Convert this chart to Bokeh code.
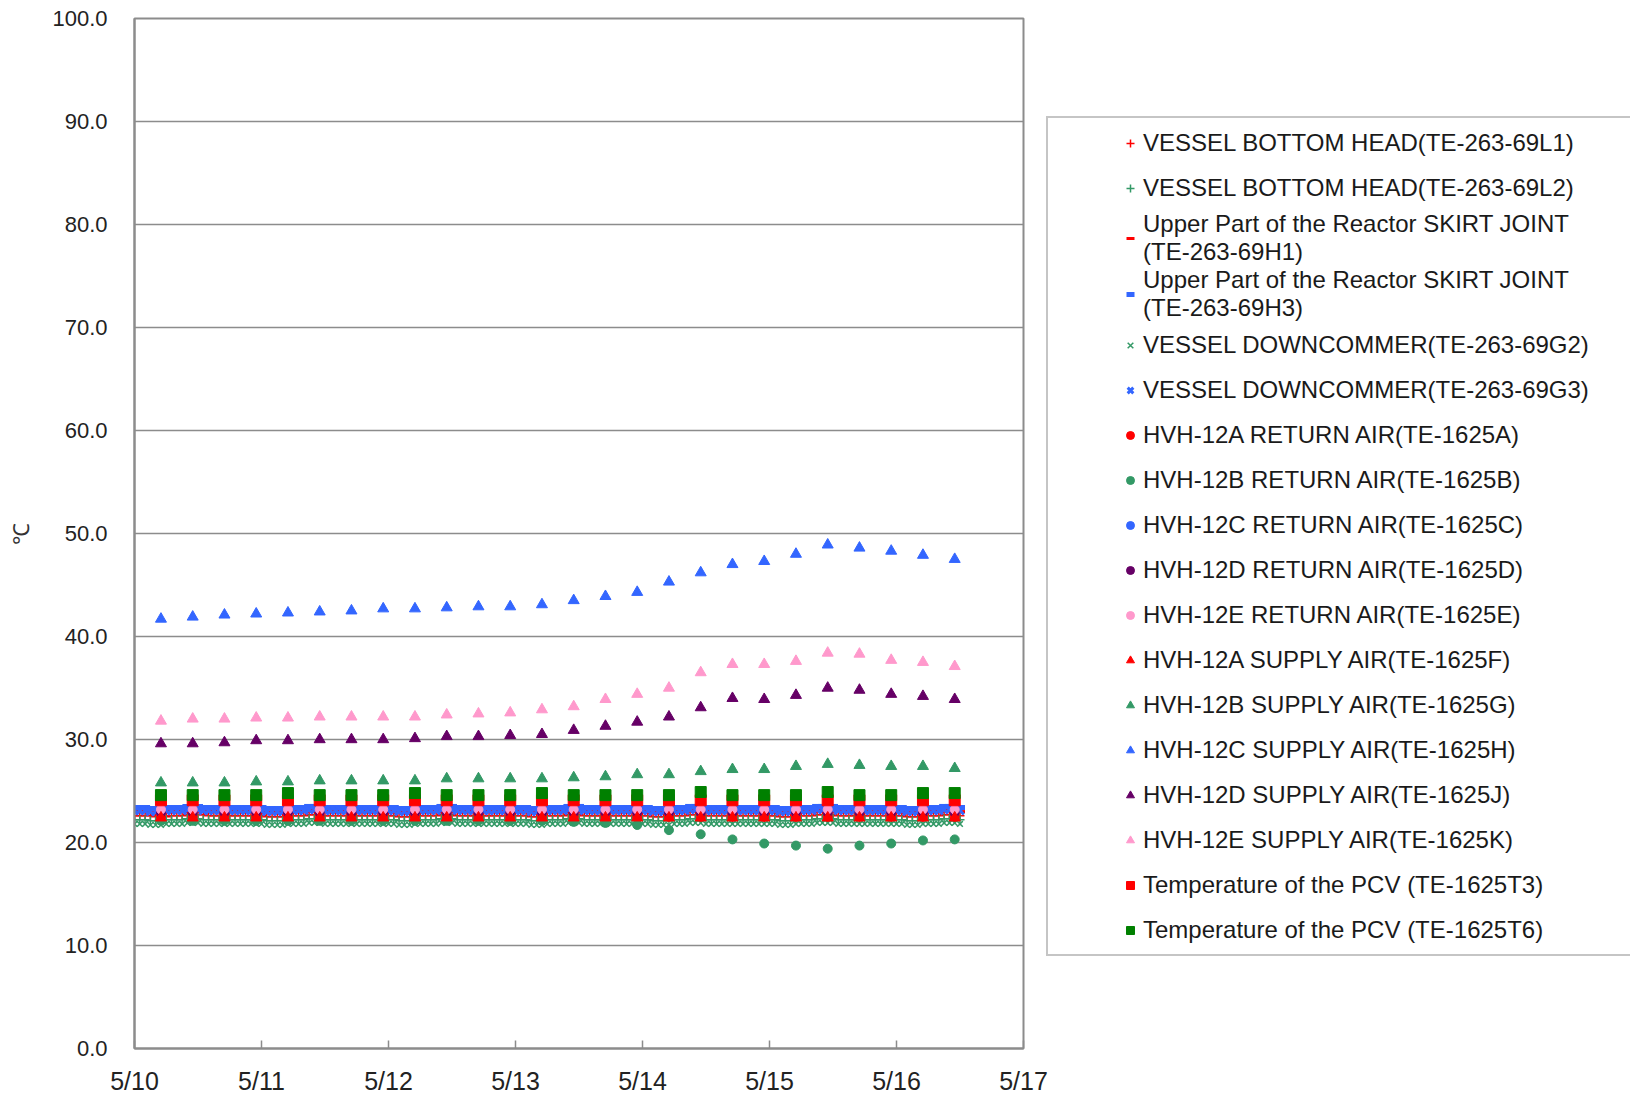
from datetime import datetime, timedelta
from bokeh.plotting import figure
from bokeh.models import Legend, LegendItem, FixedTicker, PrintfTickFormatter, Range1d
from bokeh.embed import file_html
from bokeh.resources import INLINE

START = datetime(2011, 5, 10)
# hourly readings 5/10 00:00 .. 5/16 12:00, six-hourly readings 5/10 05:00 .. 5/16 11:00
hourly_times = [START + timedelta(hours=h) for h in range(157)]
six_hour_times = [START + timedelta(hours=5 + 6 * i) for i in range(26)]

x_tick_labels = ["5/10", "5/11", "5/12", "5/13", "5/14", "5/15", "5/16", "5/17"]
y_ticks = [0, 10, 20, 30, 40, 50, 60, 70, 80, 90, 100]

# ---- hourly series (°C)
bottom_head_L1 = [
    22.6, 22.6, 22.6, 22.6, 22.5, 22.5, 22.5, 22.6, 22.6, 22.6, 22.7, 22.7, 22.7, 22.7, 22.6, 22.6, 22.6, 22.6, 22.6, 22.6, 22.6, 22.6, 22.6, 22.6,
    22.6, 22.5, 22.5, 22.5, 22.5, 22.6, 22.6, 22.6, 22.6, 22.7, 22.7, 22.7, 22.6, 22.6, 22.6, 22.6, 22.6, 22.6, 22.6, 22.6, 22.6, 22.6, 22.6, 22.6,
    22.6, 22.6, 22.5, 22.5, 22.5, 22.6, 22.6, 22.6, 22.6, 22.6, 22.7, 22.7, 22.7, 22.6, 22.6, 22.6, 22.6, 22.6, 22.6, 22.6, 22.6, 22.6, 22.6, 22.6,
    22.6, 22.6, 22.6, 22.5, 22.5, 22.5, 22.6, 22.6, 22.6, 22.6, 22.7, 22.7, 22.7, 22.6, 22.6, 22.6, 22.6, 22.6, 22.6, 22.6, 22.6, 22.6, 22.6, 22.6,
    22.6, 22.6, 22.5, 22.5, 22.5, 22.5, 22.6, 22.6, 22.6, 22.7, 22.7, 22.7, 22.6, 22.6, 22.6, 22.6, 22.6, 22.6, 22.6, 22.6, 22.6, 22.6, 22.6, 22.6,
    22.6, 22.6, 22.5, 22.5, 22.5, 22.6, 22.6, 22.6, 22.6, 22.7, 22.7, 22.7, 22.7, 22.6, 22.6, 22.6, 22.6, 22.6, 22.6, 22.6, 22.6, 22.6, 22.6, 22.6,
    22.6, 22.6, 22.5, 22.5, 22.5, 22.6, 22.6, 22.6, 22.6, 22.7, 22.7, 22.7, 22.6,
]
bottom_head_L2 = [
    22.2, 22.2, 22.2, 22.1, 22.1, 22.1, 22.2, 22.2, 22.2, 22.2, 22.3, 22.3, 22.3, 22.2, 22.2, 22.2, 22.2, 22.2, 22.2, 22.2, 22.2, 22.2, 22.2, 22.2,
    22.2, 22.1, 22.1, 22.1, 22.1, 22.2, 22.2, 22.2, 22.2, 22.3, 22.3, 22.3, 22.2, 22.2, 22.2, 22.2, 22.2, 22.2, 22.2, 22.2, 22.2, 22.2, 22.2, 22.2,
    22.2, 22.2, 22.1, 22.1, 22.1, 22.2, 22.2, 22.2, 22.2, 22.2, 22.3, 22.3, 22.3, 22.2, 22.2, 22.2, 22.2, 22.2, 22.2, 22.2, 22.2, 22.2, 22.2, 22.2,
    22.2, 22.2, 22.2, 22.1, 22.1, 22.1, 22.2, 22.2, 22.2, 22.2, 22.3, 22.3, 22.3, 22.2, 22.2, 22.2, 22.2, 22.2, 22.2, 22.2, 22.2, 22.2, 22.2, 22.2,
    22.2, 22.2, 22.1, 22.1, 22.1, 22.1, 22.2, 22.2, 22.2, 22.3, 22.3, 22.3, 22.2, 22.2, 22.2, 22.2, 22.2, 22.2, 22.2, 22.2, 22.2, 22.2, 22.2, 22.2,
    22.2, 22.2, 22.1, 22.1, 22.1, 22.2, 22.2, 22.2, 22.2, 22.3, 22.3, 22.3, 22.3, 22.2, 22.2, 22.2, 22.2, 22.2, 22.2, 22.2, 22.2, 22.2, 22.2, 22.2,
    22.2, 22.2, 22.1, 22.1, 22.1, 22.2, 22.2, 22.2, 22.2, 22.3, 22.3, 22.3, 22.2,
]
skirt_H1 = [
    23.0, 23.0, 23.0, 22.9, 22.9, 22.9, 23.0, 23.0, 23.0, 23.0, 23.1, 23.1, 23.1, 23.0, 23.0, 23.0, 23.0, 23.0, 23.0, 23.0, 23.0, 23.0, 23.0, 23.0,
    23.0, 22.9, 22.9, 22.9, 22.9, 23.0, 23.0, 23.0, 23.0, 23.1, 23.1, 23.1, 23.0, 23.0, 23.0, 23.0, 23.0, 23.0, 23.0, 23.0, 23.0, 23.0, 23.0, 23.0,
    23.0, 23.0, 22.9, 22.9, 22.9, 23.0, 23.0, 23.0, 23.0, 23.0, 23.1, 23.1, 23.1, 23.0, 23.0, 23.0, 23.0, 23.0, 23.0, 23.0, 23.0, 23.0, 23.0, 23.0,
    23.0, 23.0, 23.0, 22.9, 22.9, 22.9, 23.0, 23.0, 23.0, 23.0, 23.1, 23.1, 23.1, 23.0, 23.0, 23.0, 23.0, 23.0, 23.0, 23.0, 23.0, 23.0, 23.0, 23.0,
    23.0, 23.0, 22.9, 22.9, 22.9, 22.9, 23.0, 23.0, 23.0, 23.1, 23.1, 23.1, 23.0, 23.0, 23.0, 23.0, 23.0, 23.0, 23.0, 23.0, 23.0, 23.0, 23.0, 23.0,
    23.0, 23.0, 22.9, 22.9, 22.9, 23.0, 23.0, 23.0, 23.0, 23.1, 23.1, 23.1, 23.1, 23.0, 23.0, 23.0, 23.0, 23.0, 23.0, 23.0, 23.0, 23.0, 23.0, 23.0,
    23.0, 23.0, 22.9, 22.9, 22.9, 23.0, 23.0, 23.0, 23.0, 23.1, 23.1, 23.1, 23.0,
]
skirt_H3 = [
    23.4, 23.4, 23.4, 23.3, 23.3, 23.3, 23.4, 23.4, 23.4, 23.4, 23.5, 23.5, 23.5, 23.4, 23.4, 23.4, 23.4, 23.4, 23.4, 23.4, 23.4, 23.4, 23.4, 23.4,
    23.4, 23.3, 23.3, 23.3, 23.3, 23.4, 23.4, 23.4, 23.4, 23.5, 23.5, 23.5, 23.4, 23.4, 23.4, 23.4, 23.4, 23.4, 23.4, 23.4, 23.4, 23.4, 23.4, 23.4,
    23.4, 23.4, 23.3, 23.3, 23.3, 23.4, 23.4, 23.4, 23.4, 23.4, 23.5, 23.5, 23.5, 23.4, 23.4, 23.4, 23.4, 23.4, 23.4, 23.4, 23.4, 23.4, 23.4, 23.4,
    23.4, 23.4, 23.4, 23.3, 23.3, 23.3, 23.4, 23.4, 23.4, 23.4, 23.5, 23.5, 23.5, 23.4, 23.4, 23.4, 23.4, 23.4, 23.4, 23.4, 23.4, 23.4, 23.4, 23.4,
    23.4, 23.4, 23.3, 23.3, 23.3, 23.3, 23.4, 23.4, 23.4, 23.5, 23.5, 23.5, 23.4, 23.4, 23.4, 23.4, 23.4, 23.4, 23.4, 23.4, 23.4, 23.4, 23.4, 23.4,
    23.4, 23.4, 23.3, 23.3, 23.3, 23.4, 23.4, 23.4, 23.4, 23.5, 23.5, 23.5, 23.5, 23.4, 23.4, 23.4, 23.4, 23.4, 23.4, 23.4, 23.4, 23.4, 23.4, 23.4,
    23.4, 23.4, 23.3, 23.3, 23.3, 23.4, 23.4, 23.4, 23.4, 23.5, 23.5, 23.5, 23.4,
]
downcomer_G2 = [
    21.8, 21.8, 21.8, 21.7, 21.7, 21.7, 21.8, 21.8, 21.8, 21.8, 21.9, 21.9, 21.9, 21.8, 21.8, 21.8, 21.8, 21.8, 21.8, 21.8, 21.8, 21.8, 21.8, 21.8,
    21.8, 21.7, 21.7, 21.7, 21.7, 21.8, 21.8, 21.8, 21.8, 21.9, 21.9, 21.9, 21.8, 21.8, 21.8, 21.8, 21.8, 21.8, 21.8, 21.8, 21.8, 21.8, 21.8, 21.8,
    21.8, 21.8, 21.7, 21.7, 21.7, 21.8, 21.8, 21.8, 21.8, 21.8, 21.9, 21.9, 21.9, 21.8, 21.8, 21.8, 21.8, 21.8, 21.8, 21.8, 21.8, 21.8, 21.8, 21.8,
    21.8, 21.8, 21.8, 21.7, 21.7, 21.7, 21.8, 21.8, 21.8, 21.8, 21.9, 21.9, 21.9, 21.8, 21.8, 21.8, 21.8, 21.8, 21.8, 21.8, 21.8, 21.8, 21.8, 21.8,
    21.8, 21.8, 21.7, 21.7, 21.7, 21.7, 21.8, 21.8, 21.8, 21.9, 21.9, 21.9, 21.8, 21.8, 21.8, 21.8, 21.8, 21.8, 21.8, 21.8, 21.8, 21.8, 21.8, 21.8,
    21.8, 21.8, 21.7, 21.7, 21.7, 21.8, 21.8, 21.8, 21.8, 21.9, 21.9, 21.9, 21.9, 21.8, 21.8, 21.8, 21.8, 21.8, 21.8, 21.8, 21.8, 21.8, 21.8, 21.8,
    21.8, 21.8, 21.7, 21.7, 21.7, 21.8, 21.8, 21.8, 21.8, 21.9, 21.9, 21.9, 21.8,
]
downcomer_G3 = [
    23.1, 23.1, 23.1, 23.0, 23.0, 23.0, 23.1, 23.1, 23.1, 23.1, 23.2, 23.2, 23.2, 23.1, 23.1, 23.1, 23.1, 23.1, 23.1, 23.1, 23.1, 23.1, 23.1, 23.1,
    23.1, 23.0, 23.0, 23.0, 23.0, 23.1, 23.1, 23.1, 23.1, 23.2, 23.2, 23.2, 23.1, 23.1, 23.1, 23.1, 23.1, 23.1, 23.1, 23.1, 23.1, 23.1, 23.1, 23.1,
    23.1, 23.1, 23.0, 23.0, 23.0, 23.1, 23.1, 23.1, 23.1, 23.1, 23.2, 23.2, 23.2, 23.1, 23.1, 23.1, 23.1, 23.1, 23.1, 23.1, 23.1, 23.1, 23.1, 23.1,
    23.1, 23.1, 23.1, 23.0, 23.0, 23.0, 23.1, 23.1, 23.1, 23.1, 23.2, 23.2, 23.2, 23.1, 23.1, 23.1, 23.1, 23.1, 23.1, 23.1, 23.1, 23.1, 23.1, 23.1,
    23.1, 23.1, 23.0, 23.0, 23.0, 23.0, 23.1, 23.1, 23.1, 23.2, 23.2, 23.2, 23.1, 23.1, 23.1, 23.1, 23.1, 23.1, 23.1, 23.1, 23.1, 23.1, 23.1, 23.1,
    23.1, 23.1, 23.0, 23.0, 23.0, 23.1, 23.1, 23.1, 23.1, 23.2, 23.2, 23.2, 23.2, 23.1, 23.1, 23.1, 23.1, 23.1, 23.1, 23.1, 23.1, 23.1, 23.1, 23.1,
    23.1, 23.1, 23.0, 23.0, 23.0, 23.1, 23.1, 23.1, 23.1, 23.2, 23.2, 23.2, 23.1,
]

# ---- six-hourly series (°C)
return_A = [22.5, 22.5, 22.5, 22.5, 22.5, 22.5, 22.5, 22.5, 22.5, 22.5, 22.5, 22.5, 22.5,
            22.5, 22.5, 22.5, 22.5, 22.5, 22.5, 22.5, 22.5, 22.5, 22.5, 22.5, 22.5, 22.5]
return_B = [22.1, 22.1, 22.1, 22.1, 22.1, 22.1, 22.1, 22.1, 22.1, 22.1, 22.1, 22.1, 22.1,
            22.0, 21.9, 21.7, 21.2, 20.8, 20.3, 19.9, 19.7, 19.4, 19.7, 19.9, 20.2, 20.3]
return_C = [23.3, 23.3, 23.3, 23.3, 23.3, 23.3, 23.3, 23.3, 23.3, 23.3, 23.3, 23.3, 23.3,
            23.3, 23.3, 23.3, 23.3, 23.3, 23.3, 23.3, 23.3, 23.3, 23.3, 23.3, 23.3, 23.3]
return_D = [22.9, 22.9, 22.9, 22.9, 22.9, 22.9, 22.9, 22.9, 22.9, 22.9, 22.9, 22.9, 22.9,
            22.9, 22.9, 22.9, 22.9, 22.9, 22.9, 22.9, 22.9, 22.9, 22.9, 22.9, 22.9, 22.9]
return_E = [23.2, 23.2, 23.2, 23.2, 23.2, 23.2, 23.2, 23.2, 23.2, 23.2, 23.2, 23.2, 23.2,
            23.2, 23.2, 23.2, 23.2, 23.2, 23.2, 23.2, 23.2, 23.2, 23.2, 23.2, 23.2, 23.2]
supply_A = [22.4, 22.4, 22.4, 22.4, 22.4, 22.4, 22.4, 22.4, 22.4, 22.4, 22.4, 22.4, 22.4,
            22.4, 22.4, 22.4, 22.4, 22.4, 22.4, 22.4, 22.4, 22.4, 22.4, 22.4, 22.4, 22.4]
supply_B = [25.8, 25.8, 25.8, 25.9, 25.9, 26.0, 26.0, 26.0, 26.0, 26.2, 26.2, 26.2, 26.2,
            26.3, 26.4, 26.6, 26.6, 26.9, 27.1, 27.1, 27.4, 27.6, 27.5, 27.4, 27.4, 27.2]
supply_C = [41.7, 41.9, 42.1, 42.2, 42.3, 42.4, 42.5, 42.7, 42.7, 42.8, 42.9, 42.9, 43.1,
            43.5, 43.9, 44.3, 45.3, 46.2, 47.0, 47.3, 48.0, 48.9, 48.6, 48.3, 47.9, 47.5]
supply_D = [29.6, 29.6, 29.7, 29.9, 29.9, 30.0, 30.0, 30.0, 30.1, 30.3, 30.3, 30.4, 30.5,
            30.9, 31.3, 31.7, 32.2, 33.1, 34.0, 33.9, 34.3, 35.0, 34.8, 34.4, 34.2, 33.9]
supply_E = [31.8, 32.0, 32.0, 32.1, 32.1, 32.2, 32.2, 32.2, 32.2, 32.4, 32.5, 32.6, 32.9,
            33.2, 33.9, 34.4, 35.0, 36.5, 37.3, 37.3, 37.6, 38.4, 38.3, 37.7, 37.5, 37.1]
pcv_T3 = [24.1, 24.1, 24.1, 24.1, 24.1, 24.1, 24.1, 24.1, 24.1, 24.1, 24.1, 24.1, 24.1,
          24.1, 24.1, 24.1, 24.1, 24.1, 24.1, 24.1, 24.1, 24.1, 24.1, 24.1, 24.1, 24.1]
pcv_T6 = [24.6, 24.6, 24.6, 24.6, 24.8, 24.6, 24.6, 24.6, 24.8, 24.6, 24.6, 24.6, 24.8,
          24.6, 24.6, 24.6, 24.6, 24.9, 24.6, 24.6, 24.6, 24.9, 24.6, 24.6, 24.8, 24.8]


def day_offset(times):
    return [(t - START).total_seconds() / 86400.0 for t in times]


xh = day_offset(hourly_times)
x6 = day_offset(six_hour_times)

RED, SEA, BLUE, PURPLE, PINK, DKGREEN = "#FF0000", "#339966", "#3366FF", "#660066", "#FF99CC", "#008000"

series = [
    ("VESSEL BOTTOM HEAD(TE-263-69L1)", xh, bottom_head_L1, "cross", RED, 9, 1.5),
    ("VESSEL BOTTOM HEAD(TE-263-69L2)", xh, bottom_head_L2, "cross", SEA, 9, 1.5),
    ("Upper Part of the Reactor SKIRT JOINT\n(TE-263-69H1)", xh, skirt_H1, "dash", RED, 10, 3),
    ("Upper Part of the Reactor SKIRT JOINT\n(TE-263-69H3)", xh, skirt_H3, "dash", BLUE, 10, 5),
    ("VESSEL DOWNCOMMER(TE-263-69G2)", xh, downcomer_G2, "x", SEA, 8, 1.5),
    ("VESSEL DOWNCOMMER(TE-263-69G3)", xh, downcomer_G3, "x", BLUE, 11, 3),
    ("HVH-12A RETURN AIR(TE-1625A)", x6, return_A, "circle", RED, 9, 1),
    ("HVH-12B RETURN AIR(TE-1625B)", x6, return_B, "circle", SEA, 9, 1),
    ("HVH-12C RETURN AIR(TE-1625C)", x6, return_C, "circle", BLUE, 9, 1),
    ("HVH-12D RETURN AIR(TE-1625D)", x6, return_D, "circle", PURPLE, 9, 1),
    ("HVH-12E RETURN AIR(TE-1625E)", x6, return_E, "circle", PINK, 9, 1),
    ("HVH-12A SUPPLY AIR(TE-1625F)", x6, supply_A, "triangle", RED, 11, 1),
    ("HVH-12B SUPPLY AIR(TE-1625G)", x6, supply_B, "triangle", SEA, 11, 1),
    ("HVH-12C SUPPLY AIR(TE-1625H)", x6, supply_C, "triangle", BLUE, 11, 1),
    ("HVH-12D SUPPLY AIR(TE-1625J)", x6, supply_D, "triangle", PURPLE, 11, 1),
    ("HVH-12E SUPPLY AIR(TE-1625K)", x6, supply_E, "triangle", PINK, 11, 1),
    ("Temperature of the PCV (TE-1625T3)", x6, pcv_T3, "square", RED, 11, 1),
    ("Temperature of the PCV (TE-1625T6)", x6, pcv_T6, "square", DKGREEN, 11, 1),
]

p = figure(frame_width=889, frame_height=1030, output_backend="svg", toolbar_location=None,
           x_range=Range1d(0, 7), y_range=Range1d(0, 100),
           min_border_left=134, min_border_right=0, min_border_top=18, min_border_bottom=20,
           background_fill_color="white", border_fill_color="white")

p.outline_line_color = "#8c8c8c"
p.outline_line_width = 2
p.xgrid.grid_line_color = None
p.ygrid.grid_line_color = "#8c8c8c"
p.ygrid.grid_line_width = 1.6

p.yaxis.ticker = FixedTicker(ticks=y_ticks)
p.yaxis.formatter = PrintfTickFormatter(format="%.1f")
p.xaxis.ticker = FixedTicker(ticks=list(range(len(x_tick_labels))))
p.xaxis.major_label_overrides = {i: lab for i, lab in enumerate(x_tick_labels)}

for ax in (p.xaxis[0], p.yaxis[0]):
    ax.axis_line_color = "#8c8c8c"
    ax.axis_line_width = 2
    ax.minor_tick_line_color = None
    ax.major_label_text_font = "Liberation Sans"
    ax.major_label_text_color = "#222222"

p.yaxis.major_tick_line_color = None
p.yaxis.major_tick_out = 0
p.yaxis.major_tick_in = 0
p.yaxis.major_label_text_font_size = "22px"
p.yaxis.major_label_standoff = 27
p.yaxis.axis_label = "℃"
p.yaxis.axis_label_text_font = "Liberation Sans"
p.yaxis.axis_label_text_font_size = "22px"
p.yaxis.axis_label_text_font_style = "normal"
p.yaxis.axis_label_text_color = "#333333"
p.yaxis.axis_label_standoff = 15

p.xaxis.major_tick_line_color = "#8c8c8c"
p.xaxis.major_tick_line_width = 1.5
p.xaxis.major_tick_in = 8
p.xaxis.major_tick_out = 0
p.xaxis.major_label_text_font_size = "25px"
p.xaxis.major_label_standoff = 18

items = []
for label, xs, ys, marker, color, size, lw in series:
    r = p.scatter(xs, ys, marker=marker, size=size, line_color=color, fill_color=color,
                  line_width=lw)
    items.append(LegendItem(label=label, renderers=[r]))

# a blank title on the left side supplies the empty band between the frame and the markers
legend = Legend(items=items, location=(23, 92), orientation="vertical",
                title=" ", title_location="left", title_standoff=58,
                title_text_font_size="10px",
                padding=2, spacing=0, margin=0,
                glyph_width=22, glyph_height=20, label_height=45, label_width=493,
                label_standoff=2,
                border_line_color="#8c8c8c", border_line_width=2,
                background_fill_color="white", background_fill_alpha=1,
                label_text_font="Liberation Sans", label_text_font_size="24px",
                label_text_color="#1a1a1a")
p.add_layout(legend, "right")

open("out.html", "w").write(file_html(p, INLINE))
